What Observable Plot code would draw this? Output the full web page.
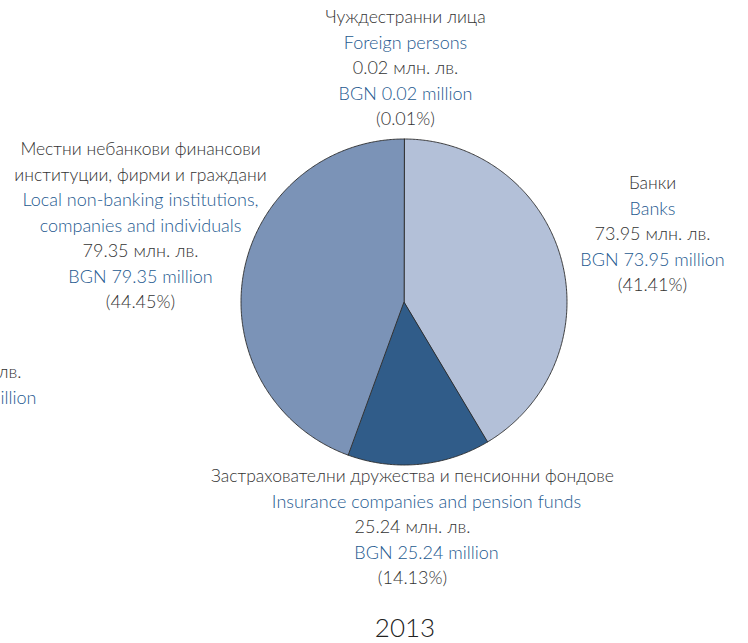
<!DOCTYPE html>
<html><head><meta charset="utf-8">
<script src="https://cdn.jsdelivr.net/npm/d3@7"></script>
<script src="https://cdn.jsdelivr.net/npm/@observablehq/plot@0.6"></script>
<style>body{margin:0;background:#fff}</style>
</head><body><div id="chart"></div>
<script>
// ---- data ----
const categoriesBg = [["Чуждестранни лица"], ["Банки"], ["Застрахователни дружества и пенсионни фондове"], ["Местни небанкови финансови", "институции, фирми и граждани"]];
const categoriesEn = [["Foreign persons"], ["Banks"], ["Insurance companies and pension funds"], ["Local non-banking institutions,", "companies and individuals"]];
const values = [0.02, 73.95, 25.24, 79.35];
const valueLabels = ["0.02", "73.95", "25.24", "79.35"];
const percentLabels = ["0.01%", "41.41%", "14.13%", "44.45%"];
const yearLabel = "2013";
// visible remains of a neighbouring chart's label at the left edge
const partialLabels = ["лв.", "illion"];

// ---- style / layout ----
const colors = ["#2f5b88", "#b3c0d8", "#305c89", "#7b93b7"];
const darkText = "#333333", blueText = "#24598f";
const cx = 403.5, cy = 301.5, r = 163;
const lineStep = 25.5;
// label anchors in pixels (x center, y of first line, dx of English lines)
const labelPos = [[405, 17, 0], [652, 183, 0], [412, 476, 14], [140, 149, 0]];

// ---- slices ----
const total = d3.sum(values);
const polys = [];
let acc = 0;
values.forEach((v, i) => {
  const a0 = acc / total * 2 * Math.PI;
  acc += v;
  const a1 = acc / total * 2 * Math.PI;
  polys.push({i, x: 0, y: 0});
  const n = Math.max(2, Math.ceil((a1 - a0) / (Math.PI / 360)));
  for (let k = 0; k <= n; k++) {
    const a = a0 + (a1 - a0) * k / n;
    polys.push({i, x: Math.sin(a), y: Math.cos(a)});
  }
});

// ---- label lines ----
const lines = [];
categoriesBg.forEach((bg, i) => {
  const [lx, ly, edx] = labelPos[i];
  const rows = [];
  bg.forEach(t => rows.push([t, darkText, 0, 17.5]));
  categoriesEn[i].forEach(t => rows.push([t, blueText, edx, 18]));
  rows.push([valueLabels[i] + " млн. лв.", darkText, 0, 18]);
  rows.push(["BGN " + valueLabels[i] + " million", blueText, edx, 18]);
  rows.push(["(" + percentLabels[i] + ")", darkText, 0, 18]);
  rows.forEach(([t, c, dx, fs], k) => lines.push({t, c, fs, px: lx + dx, py: ly + k * lineStep}));
});
const partial = [{t: partialLabels[0], c: darkText, px: 21, py: 372}, {t: partialLabels[1], c: blueText, px: 36, py: 397.5}];

const W = 748, H = 643;
const ux = px => (px - cx) / r, uy = py => (cy - py) / r;

const chart = Plot.plot({
  width: W, height: H,
  margin: 0,
  style: {fontFamily: "Lato, 'Noto Sans', sans-serif", background: "#fff", overflow: "hidden"},
  x: {domain: [-1, 1], range: [cx - r, cx + r], axis: null},
  y: {domain: [-1, 1], range: [cy + r, cy - r], axis: null},
  marks: [
    Plot.line(polys, {x: "x", y: "y", z: "i", curve: "linear-closed", fill: d => colors[d.i], stroke: "#2a2a2a", strokeWidth: 0.9, strokeLinejoin: "round"}),
    ...[17.5, 18].map(fs => Plot.text(lines.filter(d => d.fs === fs), {x: d => ux(d.px), y: d => uy(d.py), text: "t", fill: "c", fontSize: fs, fontWeight: 300, lineAnchor: "middle"})),
    Plot.text(partial, {x: d => ux(d.px), y: d => uy(d.py), text: "t", fill: "c", fontSize: 18, fontWeight: 300, textAnchor: "end", lineAnchor: "middle"}),
    Plot.text([yearLabel], {x: ux(404.5), y: uy(628.5), text: d => d, fill: "#222", fontSize: 26, fontWeight: 300, lineAnchor: "middle"})
  ]
});
document.getElementById("chart").appendChild(chart);
</script></body></html>
